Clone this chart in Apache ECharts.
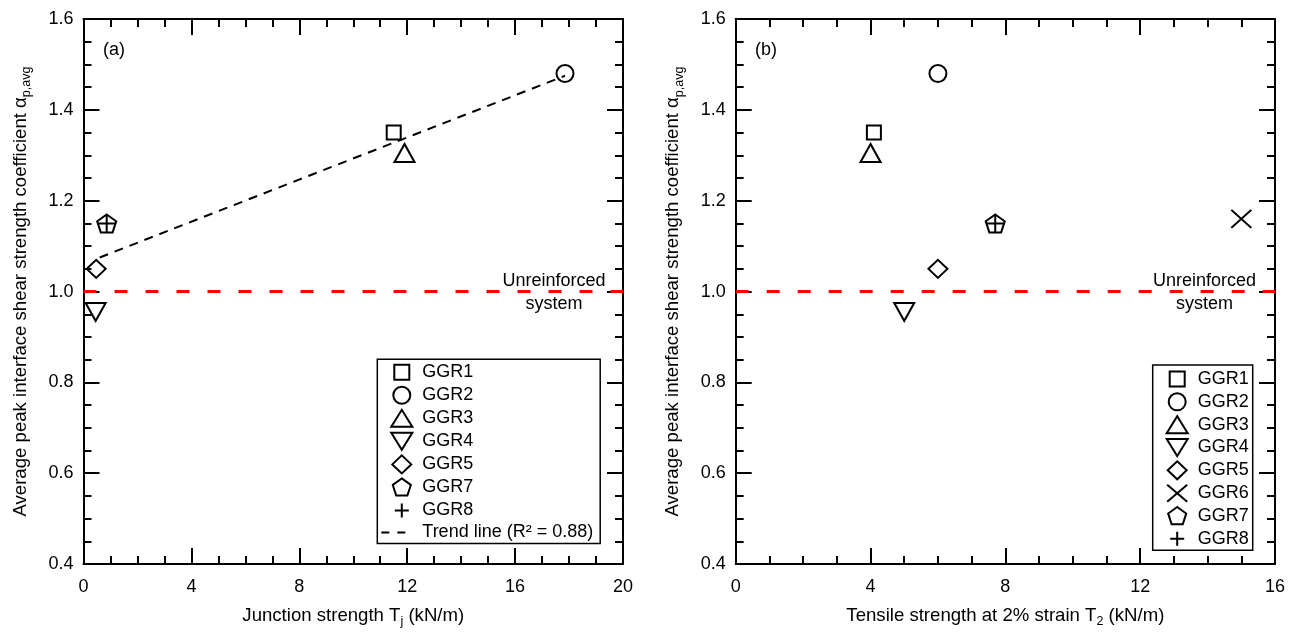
<!DOCTYPE html>
<html><head><meta charset="utf-8">
<script src="https://cdn.jsdelivr.net/npm/echarts@6/dist/echarts.min.js"></script>
<style>html,body{margin:0;padding:0;background:#fff}#c{width:1297px;height:633px}</style>
</head><body><div id="c"></div>
<script>
// ---- data ----
const names = ['GGR1', 'GGR2', 'GGR3', 'GGR4', 'GGR5', 'GGR6', 'GGR7', 'GGR8'];
const alphaAvg = [1.35, 1.48, 1.305, 0.955, 1.05, 1.16, 1.15, 1.15];
const junctionTj = [11.5, 17.85, 11.9, 0.45, 0.47, null, 0.86, 0.86];   // panel (a), GGR6 not shown
const tensileT2 = [4.1, 6.0, 4.0, 5.0, 6.0, 15.0, 7.7, 7.7];            // panel (b)
const trendX = [0.6, 17.85];
const trendY = [1.075, 1.475];
const trendName = 'Trend line (R\u00B2 = 0.88)';
const unreinforced = 1.0;
const xRangeA = [0, 20], xRangeB = [0, 16], yRange = [0.4, 1.6];
const xStep = 4, yStep = 0.2;

// ---- styles ----
const FONT = "'Liberation Sans', Arial, Helvetica, sans-serif";
const FS = 18;
const FN = 18.6;
const pent = 'path://M0,-1L0.951,-0.309L0.588,0.809L-0.588,0.809L-0.951,-0.309Z';
const sym = {
  GGR1: ['rect', 14],
  GGR2: ['circle', 17],
  GGR3: ['triangle', [20, 18]],
  GGR4: ['path://M0,0L10,0L5,9Z', [20, 18]],
  GGR5: ['diamond', [19, 18]],
  GGR6: ['path://M0,0L10,9M0,9L10,0', [20, 18]],
  GGR7: [pent, [19, 18]],
  GGR8: ['path://M5,0L5,10M0,5L10,5', 17]
};
// legend icons drawn in a 37x18 box (invisible corner points fix the box)
const B = 'path://M0,0M37,18';
const legendIcon = {
  GGR1: B + 'M14,1.5L29,1.5L29,16.5L14,16.5Z',
  GGR2: B + 'M13,9A8.5,8.5 0 1 0 30,9A8.5,8.5 0 1 0 13,9Z',
  GGR3: B + 'M11,17.5L32,17.5L21.5,0.5Z',
  GGR4: B + 'M11,0.5L32,0.5L21.5,17.5Z',
  GGR5: B + 'M21.5,0L31,9L21.5,18L12,9Z',
  GGR6: B + 'M11.5,0.5L31.5,17.5M11.5,17.5L31.5,0.5',
  GGR7: B + 'M21.5,0L30.53,6.56L27.09,17.19L15.91,17.19L12.47,6.56Z',
  GGR8: B + 'M21.5,2L21.5,16M14.5,9L28.5,9',
  trend: B + 'M1,8L9,8L9,10L1,10ZM17,8L25,8L25,10L17,10Z'
};

const chart = echarts.init(document.getElementById('c'), null, {renderer: 'canvas'});

const richName = {
  n: {fontSize: FN, fontFamily: FONT, color: '#000', lineHeight: 22, verticalAlign: 'top'},
  s: {fontSize: 12.5, fontFamily: FONT, color: '#000', lineHeight: 12, verticalAlign: 'bottom', padding: [14, 0, 0, 0]}
};
function xAxisDef(grid, range, pos) {
  const bottom = pos === 'bottom';
  return {
    type: 'value', gridIndex: grid, position: pos, min: range[0], max: range[1], interval: xStep,
    axisLine: {show: true, onZero: false, lineStyle: {color: '#000', width: 2}},
    axisTick: {show: true, inside: true, length: 16, lineStyle: {color: '#000', width: 2}},
    minorTick: {show: true, splitNumber: 4, length: 8, lineStyle: {color: '#000', width: 2}},
    splitLine: {show: false}, minorSplitLine: {show: false},
    axisLabel: {show: bottom, margin: 14, color: '#000', fontSize: FS, fontFamily: FONT},
    name: bottom ? (grid === 0 ? '{n|Junction strength T}{s|j}{n| (kN/m)}' : '{n|Tensile strength at 2% strain T}{s|2}{n| (kN/m)}') : '',
    nameLocation: 'middle', nameGap: 23,
    nameTextStyle: {color: '#000', fontFamily: FONT, fontSize: FN, rich: richName}
  };
}
function yAxisDef(grid, pos) {
  const left = pos === 'left';
  return {
    type: 'value', gridIndex: grid, position: pos, min: yRange[0], max: yRange[1], interval: yStep,
    axisLine: {show: true, onZero: false, lineStyle: {color: '#000', width: 2}},
    axisTick: {show: true, inside: true, length: 16, lineStyle: {color: '#000', width: 2}},
    minorTick: {show: true, splitNumber: 4, length: 8, lineStyle: {color: '#000', width: 2}},
    splitLine: {show: false}, minorSplitLine: {show: false},
    axisLabel: {show: left, margin: 10, color: '#000', fontSize: FS, fontFamily: FONT,
      formatter: v => v.toFixed(1)},
    name: left ? '{n|Average peak interface shear strength coefficient \u03B1}{s|p,avg}' : '',
    nameLocation: 'middle', nameGap: 50,
    nameTextStyle: {color: '#000', fontFamily: FONT, fontSize: FN, rich: richName}
  };
}

const series = [];
// unreinforced reference lines
[[0, xRangeA], [1, xRangeB]].forEach(([g, r]) => {
  series.push({
    type: 'line', xAxisIndex: g * 2, yAxisIndex: g * 2, silent: true, symbol: 'none', z: 1,
    data: [[r[0], unreinforced], [r[1], unreinforced]],
    lineStyle: {color: '#ff0000', width: 3, type: [13, 18]}
  });
});
// trend line (a)
series.push({
  name: trendName, type: 'line', xAxisIndex: 0, yAxisIndex: 0, symbol: 'none', z: 2, silent: true,
  data: trendX.map((x, i) => [x, trendY[i]]),
  lineStyle: {color: '#000', width: 2, type: [9, 7]}, itemStyle: {color: '#000'}
});
function scatter(name, g, x, y) {
  const s = sym[name];
  return {
    name, type: 'scatter', xAxisIndex: g * 2, yAxisIndex: g * 2, z: 3, silent: true,
    symbol: s[0], symbolSize: s[1], symbolKeepAspect: false,
    data: [[x, y]],
    itemStyle: {color: 'transparent', borderColor: '#000', borderWidth: 2, opacity: 1}
  };
}
names.forEach((n, i) => { if (junctionTj[i] != null) series.push(scatter(n, 0, junctionTj[i], alphaAvg[i])); });
names.forEach((n, i) => { series.push(scatter(n, 1, tensileT2[i], alphaAvg[i])); });

const legendCommon = {
  orient: 'vertical', itemWidth: 37, itemHeight: 18, itemTextGap: 5,
  borderColor: '#000', borderWidth: 1.5, borderRadius: 0, backgroundColor: '#fff',
  selectedMode: false, symbolKeepAspect: false, align: 'left',
  textStyle: {color: '#000', fontSize: FS, fontFamily: FONT}
};
const legendItem = n => ({name: n, icon: legendIcon[n]});

chart.setOption({
  animation: false,
  backgroundColor: '#fff',
  grid: [
    {left: 83.5, top: 19, width: 539.5, height: 550},
    {left: 735.7, top: 19, width: 539.3, height: 550}
  ],
  xAxis: [xAxisDef(0, xRangeA, 'bottom'), xAxisDef(0, xRangeA, 'top'),
          xAxisDef(1, xRangeB, 'bottom'), xAxisDef(1, xRangeB, 'top')],
  yAxis: [yAxisDef(0, 'left'), yAxisDef(0, 'right'), yAxisDef(1, 'left'), yAxisDef(1, 'right')],
  legend: [
    Object.assign({}, legendCommon, {left: 377.3, top: 359.3, padding: [3, 7, 2, 2], itemGap: 3.02,
      data: names.filter((n, i) => junctionTj[i] != null).map(legendItem)
        .concat([{name: trendName, icon: legendIcon.trend,
          itemStyle: {color: '#000', borderColor: '#000', borderWidth: 0, opacity: 1}}])}),
    Object.assign({}, legendCommon, {left: 1152.7, top: 365, padding: [4, 4, 1.5, 2], itemGap: 2.83,
      data: names.map(legendItem)})
  ],
  series
});

// annotations anchored through the axes' scales
const yA = chart.convertToPixel({gridIndex: 0}, [0, unreinforced])[1];
const yB = chart.convertToPixel({gridIndex: 1}, [0, unreinforced])[1];
const txt = (x, y, text, align, va) => ({type: 'text', x, y, silent: true, z: 10,
  style: {text, fill: '#000', font: FS + 'px ' + FONT, textAlign: align, textVerticalAlign: va}});
chart.setOption({
  graphic: [
    txt(103, 50, '(a)', 'left', 'middle'),
    txt(755, 50, '(b)', 'left', 'middle'),
    txt(554, yA - 2, 'Unreinforced', 'center', 'bottom'),
    txt(554, yA + 3, 'system', 'center', 'top'),
    txt(1204.5, yB - 2, 'Unreinforced', 'center', 'bottom'),
    txt(1204.5, yB + 3, 'system', 'center', 'top')
  ]
});
</script>
</body></html>
